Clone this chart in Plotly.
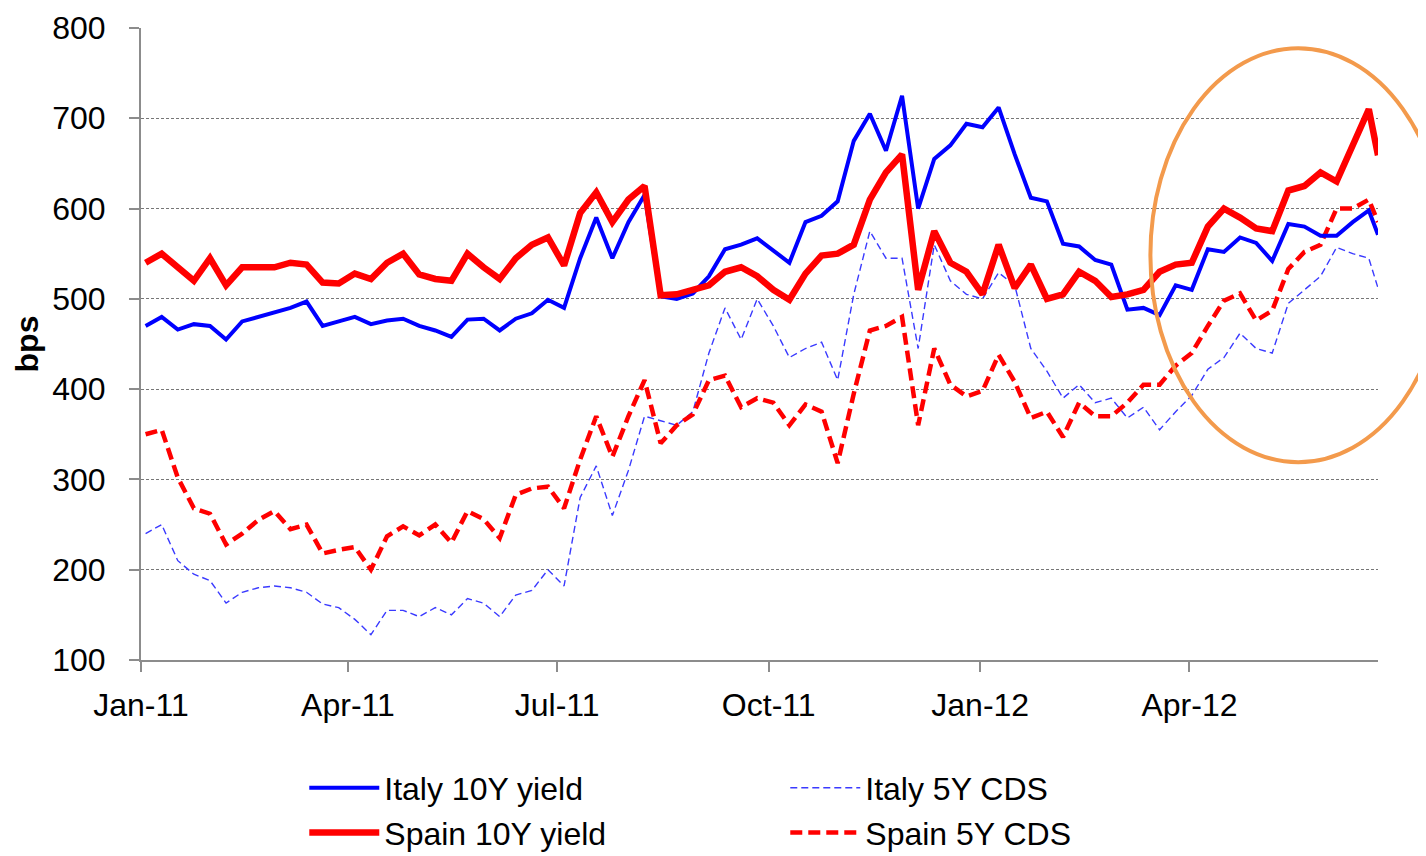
import pandas as pd
import plotly.graph_objects as go

# weekly observations, Jan 2011 - Jun 2012 (values in bps)
dates = list(pd.date_range("2011-01-03", periods=77, freq="7D")) + [pd.Timestamp("2012-06-22")]

italy_10y = [
    470, 480, 466, 472, 470, 455, 475, 480, 484, 490, 497, 470, 475, 480,
    472, 476, 478, 470, 465, 458, 477, 478, 465, 478, 484, 499, 490,
    545, 590, 545, 585, 615, 503, 500, 506, 525, 555, 560, 567, 553,
    540, 585, 592, 608, 675, 705, 664, 725, 600, 655, 670, 694, 690,
    712, 660, 612, 608, 561, 558, 543, 538, 488, 490, 482, 515, 510,
    555, 552, 568, 562, 542, 583, 580, 570, 570, 585, 598, 571,
]
spain_10y = [
    540, 550, 535, 520, 545, 515, 535, 535, 535, 540, 538, 518, 517, 528,
    522, 540, 550, 527, 522, 520, 550, 535, 522, 545, 560, 568, 537,
    595, 618, 585, 610, 625, 504, 505, 510, 515, 530, 535, 525, 510,
    499, 528, 548, 550, 560, 610, 640, 660, 510, 575, 540, 530, 505,
    560, 512, 538, 500, 505, 530, 520, 502, 505, 510, 530, 538, 540,
    580, 600, 590, 578, 575, 620, 625, 640, 630, 668, 710, 659,
]
italy_cds = [
    240, 250, 210, 195, 188, 163, 175, 180, 182, 180, 175, 162, 158, 145,
    128, 155, 155, 148, 158, 150, 168, 163, 148, 172, 177, 200, 182,
    280, 315, 260, 310, 370, 365, 360, 375, 440, 490, 455, 500, 470,
    435, 445, 452, 410, 505, 575, 545, 545, 445, 560, 520, 505, 500,
    529, 515, 445, 420, 390, 405, 385, 390, 368, 380, 355, 375, 393,
    422, 435, 462, 445, 440, 495, 510, 525, 557, 550, 545, 512,
]
spain_cds = [
    350, 355, 302, 268, 262, 228, 240, 255, 265, 245, 250, 218, 222, 225,
    200, 237, 248, 238, 250, 230, 265, 256, 235, 283, 290, 292, 268,
    322, 370, 325, 370, 410, 340, 360, 372, 410, 415, 380, 390, 385,
    360, 383, 375, 318, 395, 465, 470, 480, 360, 445, 405, 392, 398,
    438, 408, 368, 375, 347, 385, 370, 370, 385, 405, 405, 426, 440,
    470, 498, 506, 476, 487, 533, 552, 560, 600, 600, 610, 585,
]

FONT = "Liberation Sans, Arial, sans-serif"

fig = go.Figure()
fig.add_trace(go.Scatter(x=dates, y=italy_cds, name="Italy 5Y CDS", mode="lines", legendrank=2,
                         line=dict(color="#3a3aff", width=1.4, dash="7px,4px")))
fig.add_trace(go.Scatter(x=dates, y=spain_cds, name="Spain 5Y CDS", mode="lines", legendrank=4,
                         line=dict(color="#ff0000", width=4.5, dash="12px,6px")))
fig.add_trace(go.Scatter(x=dates, y=italy_10y, name="Italy 10Y yield", mode="lines", legendrank=1,
                         line=dict(color="#0000ff", width=4)))
fig.add_trace(go.Scatter(x=dates, y=spain_10y, name="Spain 10Y yield", mode="lines", legendrank=3,
                         line=dict(color="#ff0000", width=6.5)))

# orange ellipse highlighting the last months
fig.add_shape(type="circle", xref="paper", yref="paper",
              x0=0.816, x1=1.055, y0=0.313, y1=0.968,
              line=dict(color="#f39a4c", width=4))

# page has an 8px body margin, so the figure is a bit smaller than the window
fig.update_layout(
    width=1418, height=848,
    margin=dict(l=133, r=48, t=20, b=196, autoexpand=False),
    paper_bgcolor="white", plot_bgcolor="white",
    font=dict(family=FONT, size=32, color="black"),
    showlegend=True,
    legend=dict(orientation="h", x=0.132, xanchor="left", y=-0.159, yanchor="top",
                entrywidth=396, entrywidthmode="pixels", traceorder="normal",
                font=dict(size=32), itemwidth=70, tracegroupgap=0),
)
fig.update_xaxes(
    type="date", range=["2011-01-01", "2012-06-22"],
    tick0="2011-01-01", dtick="M3", tickformat="%b-%y",
    showgrid=False, showline=True, linecolor="#8c8c8c", linewidth=2,
    ticks="outside", ticklen=10, tickcolor="#8c8c8c", tickwidth=2,
    ticklabelstandoff=6,
)
fig.update_yaxes(
    range=[100, 800], dtick=100,
    showgrid=True, gridcolor="#777777", gridwidth=1, griddash="3px,2px",
    showline=True, linecolor="#8c8c8c", linewidth=2,
    ticks="outside", ticklen=10, tickcolor="#8c8c8c", tickwidth=2,
    ticklabelstandoff=17, zeroline=False,
    title=dict(text="<b>bps</b>", standoff=4, font=dict(size=32)),
)

fig.write_html("out.html")
